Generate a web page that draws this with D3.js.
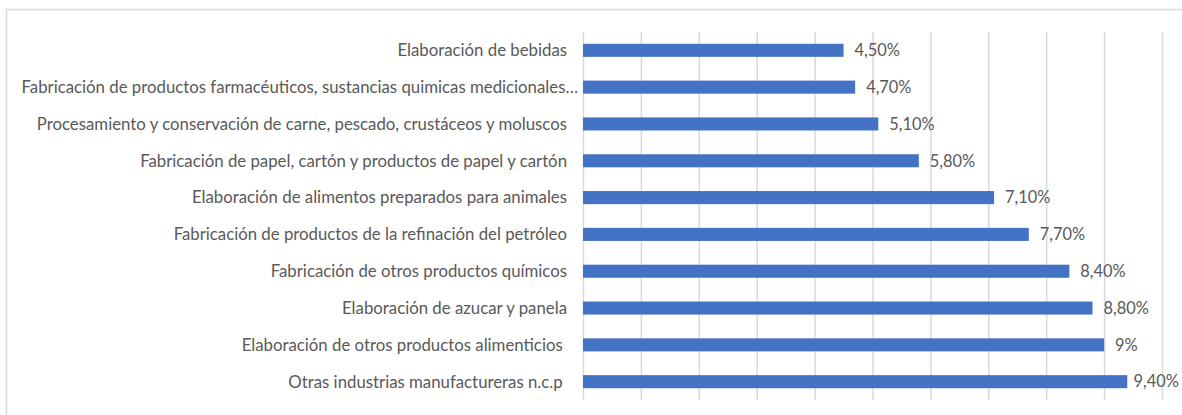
<!DOCTYPE html>
<html>
<head>
<meta charset="utf-8">
<script src="https://cdn.jsdelivr.net/npm/d3@7"></script>
<style>
  html, body { margin: 0; padding: 0; background: #fff; }
  svg { display: block; }
  text { font-family: Lato, "Open Sans", sans-serif; white-space: pre; }
</style>
</head>
<body>
<svg id="chart" width="1182" height="415"></svg>
<script>
// Industry categories, top to bottom
const categories = [
  "Elaboración de bebidas",
  "Fabricación de productos farmacéuticos, sustancias quimicas medicionales…",
  "Procesamiento y conservación de carne, pescado, crustáceos y moluscos",
  "Fabricación de papel, cartón y productos de papel y cartón",
  "Elaboración de alimentos preparados para animales",
  "Fabricación de productos de la refinación del petróleo",
  "Fabricación de otros productos químicos",
  "Elaboración de azucar y panela",
  "Elaboración de otros productos alimenticios ",
  "Otras industrias manufactureras n.c.p "
];
// Share (%) for each category
const values = [4.5, 4.7, 5.1, 5.8, 7.1, 7.7, 8.4, 8.8, 9.0, 9.4];
// Printed value labels
const valueLabels = ["4,50%", "4,70%", "5,10%", "5,80%", "7,10%", "7,70%", "8,40%", "8,80%", "9%", "9,40%"];
const gridTicks = [0, 1, 2, 3, 4, 5, 6, 7, 8, 9, 10];

const svg = d3.select("#chart");
const W = 1182, H = 415;

// outer chart frame
svg.append("rect")
  .attr("x", 6.5).attr("y", 9.5)
  .attr("width", W + 20).attr("height", H + 20)
  .attr("fill", "#fff").attr("stroke", "#d9d9d9").attr("stroke-width", 1.5);

const plot = { left: 583, right: 1162, top: 32, bottom: 400 };

const x = d3.scaleLinear().domain([0, 10]).range([plot.left, plot.right]);
const y = d3.scaleBand().domain(categories).range([plot.top, plot.bottom]).paddingInner(0.645).paddingOuter(0.32);

// vertical gridlines
svg.append("g")
  .attr("transform", `translate(0,${plot.bottom})`)
  .call(d3.axisBottom(x).tickValues(gridTicks).tickSize(plot.bottom - plot.top).tickFormat(""))
  .call(g => g.select(".domain").remove())
  .call(g => g.selectAll(".tick line")
    .attr("y2", -(plot.bottom - plot.top))
    .attr("stroke", "#d9d9d9").attr("stroke-width", 1.5));

// bars
svg.append("g").selectAll("rect")
  .data(values)
  .join("rect")
  .attr("x", x(0))
  .attr("y", (d, i) => y(categories[i]))
  .attr("width", d => x(d) - x(0))
  .attr("height", y.bandwidth())
  .attr("fill", "#4472c4");

// category labels
svg.append("g").selectAll("text")
  .data(categories)
  .join("text")
  .attr("x", d => d.endsWith("…") ? 578 : 567)
  .attr("y", d => y(d) + y.bandwidth() / 2)
  .attr("dy", "0.35em")
  .attr("text-anchor", "end")
  .attr("font-size", 16.8)
  .attr("fill", "#595959")
  .text(d => d);

// value labels, kept inside the frame on the right
const vl = svg.append("g").selectAll("text")
  .data(values)
  .join("text")
  .attr("y", (d, i) => y(categories[i]) + y.bandwidth() / 2)
  .attr("dy", "0.35em")
  .attr("font-size", 16.4)
  .attr("fill", "#595959")
  .text((d, i) => valueLabels[i]);
vl.each(function (d) {
  const w = this.getComputedTextLength();
  d3.select(this).attr("x", Math.min(x(d) + 11, 1179 - w));
});
</script>
</body>
</html>
